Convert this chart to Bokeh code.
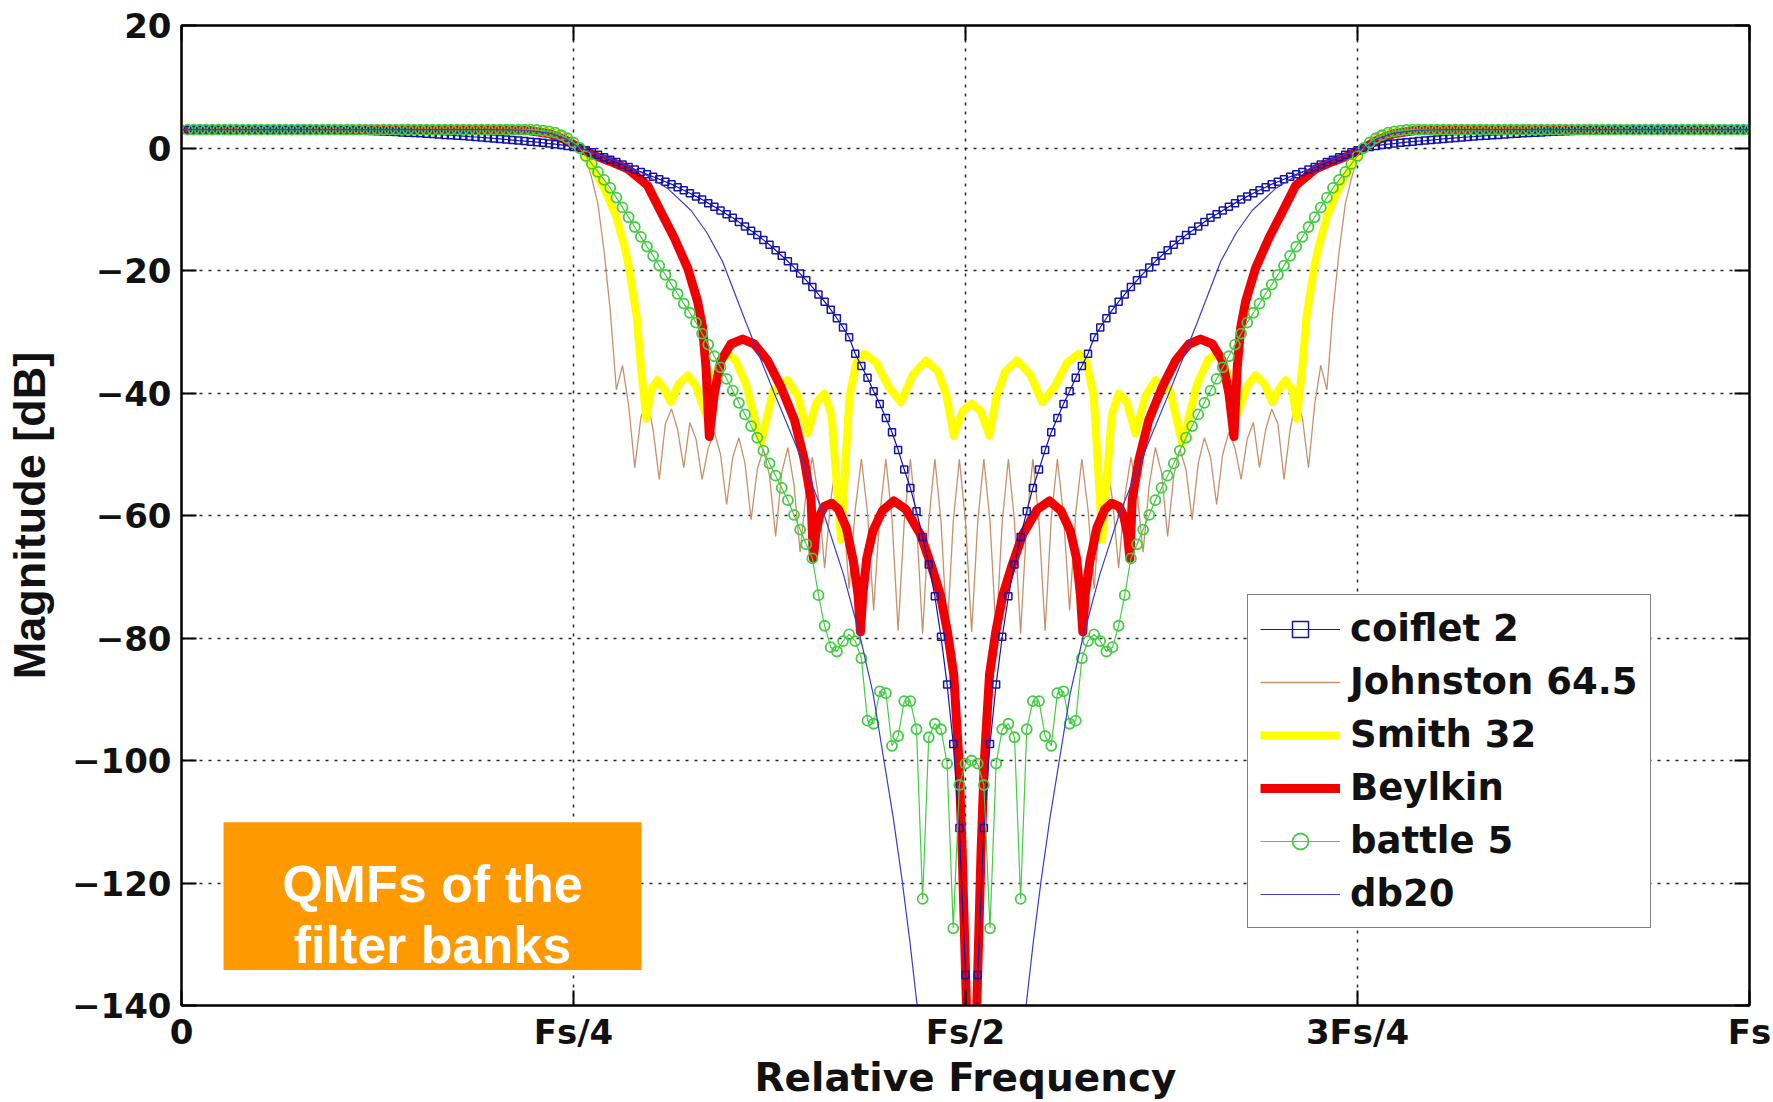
from bokeh.plotting import figure
from bokeh.models import (Range1d, FixedTicker, LinearAxis, Legend, LegendItem,
                          BoxAnnotation, Label)
from bokeh.embed import file_html
from bokeh.resources import INLINE

# ------------------------------------------------------------------ data
# Magnitude responses (dB). The responses are symmetric
# about FFT bin 129 of 256 (x = bin/256 of Fs); the lower half is listed.
N_BINS = 256
SYM_BIN = 129

freq_ticks = [0, 0.25, 0.5, 0.75, 1.0]
freq_tick_labels = ["0", "Fs/4", "Fs/2", "3Fs/4", "Fs"]
db_ticks = [-140, -120, -100, -80, -60, -40, -20, 0, 20]
db_tick_labels = ["\u2212140", "\u2212120", "\u2212100", "\u221280", "\u221260",
                  "\u221240", "\u221220", "0", "20"]

# coiflet 2 : one value per bin, bins 1..129
coiflet_db = [
    3.0, 3.0, 3.0, 3.0, 3.0, 3.0, 3.0, 3.0, 3.0, 3.0,
    3.0, 3.0, 3.0, 3.0, 3.0, 3.0, 3.0, 3.0, 3.0, 3.0,
    3.0, 2.98, 2.97, 2.95, 2.93, 2.9, 2.88, 2.85, 2.82, 2.8,
    2.76, 2.72, 2.68, 2.65, 2.6, 2.55, 2.5, 2.45, 2.39, 2.33,
    2.27, 2.2, 2.14, 2.08, 2.01, 1.95, 1.87, 1.8, 1.72, 1.65,
    1.56, 1.48, 1.39, 1.3, 1.21, 1.13, 1.04, 0.95, 0.84, 0.73,
    0.62, 0.5, 0.34, 0.17, 0.0, -0.35, -0.7, -1.1, -1.5, -1.9,
    -2.3, -2.7, -3.1, -3.5, -3.9, -4.3, -4.7, -5.1, -5.5, -5.9,
    -6.4, -6.9, -7.4, -7.9, -8.4, -9.0, -9.6, -10.2, -10.8, -11.4,
    -12.1, -12.8, -13.5, -14.2, -15.0, -15.8, -16.7, -17.6, -18.5, -19.5,
    -20.5, -21.6, -22.7, -23.9, -25.1, -26.4, -27.8, -29.3, -30.9, -33.6,
    -35.6, -37.5, -39.7, -41.8, -44.1, -46.4, -49.3, -52.5, -55.5, -59.3,
    -63.5, -68.0, -73.2, -79.8, -87.6, -97.3, -111.0, -135.0, -200.0,
]

# battle 5 : one value per bin, bins 1..129
battle_db = [
    3.0, 3.0, 3.0, 3.0, 3.0, 3.0, 3.0, 3.0, 3.0, 3.0,
    3.0, 3.0, 3.0, 3.0, 3.0, 3.0, 3.0, 3.0, 3.0, 3.0,
    3.0, 3.0, 3.0, 3.0, 3.0, 3.0, 3.0, 3.0, 3.0, 3.0,
    3.0, 3.0, 3.0, 3.0, 3.0, 3.0, 3.0, 3.0, 3.0, 3.0,
    3.0, 3.0, 3.0, 3.0, 3.0, 3.0, 3.0, 3.0, 3.0, 3.0,
    3.0, 3.0, 3.0, 3.0, 3.0, 3.0, 3.0, 2.95, 2.85, 2.7,
    2.5, 2.1, 1.6, 0.9, 0.0, -1.3, -2.6, -3.9, -5.2, -6.5,
    -8.1, -9.7, -11.3, -12.9, -14.5, -16.1, -17.6, -19.2, -20.7, -22.3,
    -23.8, -25.4, -26.9, -28.5, -30.3, -32.1, -34.0, -35.8, -37.7, -39.6,
    -41.6, -43.5, -45.4, -47.3, -49.4, -51.5, -53.5, -55.5, -57.5, -59.9,
    -62.3, -64.7, -67.0, -73.0, -78.0, -81.5, -82.2, -80.5, -79.4, -80.5,
    -83.3, -93.5, -94.0, -88.7, -89.0, -97.6, -96.0, -90.3, -90.3, -94.9,
    -122.6, -96.2, -94.0, -94.9, -100.5, -127.4, -104.0, -100.5, -100.0,
]

# Johnston 64.5 : one value per bin, bins 1..129
johnston_db = [
    3.0, 3.0, 3.0, 3.0, 3.0, 3.0, 3.0, 3.0, 3.0, 3.0,
    3.0, 3.0, 3.0, 3.0, 3.0, 3.0, 3.0, 3.0, 3.0, 3.0,
    3.0, 3.0, 3.0, 3.0, 3.0, 3.0, 3.0, 3.0, 3.0, 3.0,
    3.0, 3.0, 3.0, 3.0, 3.0, 3.0, 3.0, 3.0, 3.0, 3.0,
    3.0, 3.0, 3.0, 3.0, 3.0, 3.0, 3.0, 3.0, 3.0, 3.0,
    3.0, 3.0, 3.0, 3.0, 3.0, 3.0, 3.0, 3.0, 3.0, 3.0,
    2.95, 2.8, 2.3, 1.4, 0.0, -1.5, -5.0, -9.2, -16.9, -26.5,
    -39.5, -35.5, -42.0, -52.2, -44.0, -41.0, -46.0, -54.1, -45.0, -42.6,
    -46.0, -52.2, -44.8, -47.5, -54.1, -49.0, -46.4, -50.0, -58.2, -50.5,
    -47.3, -51.5, -60.7, -52.5, -49.2, -53.5, -63.4, -53.0, -48.9, -55.0,
    -66.0, -56.0, -50.5, -57.0, -68.6, -57.5, -50.5, -58.5, -72.0, -59.0,
    -50.8, -59.5, -75.5, -60.0, -50.8, -60.5, -78.8, -61.0, -50.8, -61.0,
    -79.3, -61.0, -50.8, -61.0, -79.3, -61.0, -50.8, -61.0, -79.0,
]

# Smith 32 : (frequency / Fs, dB) points of the lower half
smith_f = [0.0, 0.22, 0.235, 0.245, 0.2539, 0.262, 0.27, 0.277, 0.2825, 0.2855,
           0.2904, 0.293, 0.2965, 0.2995, 0.3036, 0.3075, 0.3121, 0.317, 0.3228, 0.328,
           0.3355, 0.341, 0.347, 0.353, 0.36, 0.3696, 0.3775, 0.3866, 0.393, 0.3994,
           0.405, 0.41, 0.4145, 0.4206, 0.426, 0.4305, 0.4355, 0.443, 0.451, 0.4589,
           0.4665, 0.4749, 0.4825, 0.488, 0.4925, 0.498, 0.5039]
smith_db = [3.0, 3.0, 2.6, 1.6, 0.0, -3.0, -6.8, -11.0, -16.0, -19.6,
            -27.7, -35.8, -44.2, -39.5, -37.9, -39.2, -41.5, -38.6, -37.1, -38.8,
            -44.2, -36.5, -33.5, -34.5, -38.5, -48.2, -39.5, -37.9, -40.5, -46.6,
            -41.5, -40.1, -43.5, -63.9, -40.5, -35.0, -33.6, -35.0, -39.0, -41.5,
            -37.0, -34.7, -36.5, -40.5, -47.0, -43.0, -41.7]

# Beylkin : (frequency / Fs, dB) points of the lower half
beylkin_f = [0.0, 0.2, 0.22, 0.235, 0.245, 0.2539, 0.2632, 0.2735, 0.2845, 0.2972,
             0.3057, 0.3143, 0.3228, 0.3291, 0.3323, 0.3345, 0.3355, 0.3366, 0.3398, 0.344,
             0.3504, 0.3579, 0.3653, 0.3738, 0.3823, 0.3909, 0.3972, 0.4015, 0.403, 0.4045,
             0.407, 0.41, 0.4147, 0.419, 0.424, 0.4285, 0.4315, 0.433, 0.4345, 0.437,
             0.441, 0.447, 0.4543, 0.462, 0.4713, 0.4786, 0.484, 0.4885, 0.4925, 0.4958,
             0.4979, 0.5005, 0.5039]
beylkin_db = [3.0, 3.0, 2.9, 2.3, 1.3, 0.0, -1.2, -2.2, -3.4, -6.1,
              -10.4, -14.7, -19.6, -25.0, -29.3, -35.8, -41.2, -47.1, -40.1, -34.7,
              -32.0, -31.2, -32.0, -34.7, -39.0, -44.4, -50.9, -57.4, -67.0, -63.0,
              -60.0, -58.5, -58.0, -59.0, -62.0, -67.5, -73.0, -79.0, -73.0, -67.0,
              -62.5, -59.2, -57.6, -59.0, -63.1, -68.5, -73.0, -79.0, -86.0, -100.0,
              -115.0, -139.0, -200.0]

# db20 : (frequency / Fs, dB) points of the lower half
db20_f = [0.0, 0.2, 0.22, 0.235, 0.245, 0.2539, 0.265, 0.28, 0.295, 0.31,
          0.325, 0.335, 0.345, 0.36, 0.378, 0.395, 0.41, 0.422, 0.433, 0.441,
          0.448, 0.454, 0.4596, 0.4645, 0.4688, 0.475, 0.49, 0.5039]
db20_db = [3.0, 3.0, 2.9, 2.4, 1.5, 0.0, -1.0, -2.4, -4.2, -6.6,
           -10.2, -13.8, -18.5, -28.5, -40.0, -50.5, -60.0, -69.5, -80.0, -89.0,
           -100.0, -109.5, -119.6, -129.5, -139.2, -152.0, -185.0, -230.0]

# ------------------------------------------------------------------ build full curves
freq_bins = [b / N_BINS for b in range(1, N_BINS + 1)]


def full_bins(vals):
    # bins 130..256 mirror bins 128..2
    return vals + vals[-2:0:-1]


def full_curve(f, v):
    c2 = 2 * SYM_BIN / N_BINS
    return f + [c2 - x for x in f[-2::-1]], v + v[-2::-1]


coif_full = full_bins(coiflet_db)
battle_full = full_bins(battle_db)
john_full = full_bins(johnston_db)
smith_x, smith_y = full_curve(smith_f, smith_db)
bey_x, bey_y = full_curve(beylkin_f, beylkin_db)
db20_x, db20_y = full_curve(db20_f, db20_db)

# ------------------------------------------------------------------ figure
p = figure(width=1773, height=1102,
           x_range=Range1d(0, 1), y_range=Range1d(-140, 20),
           output_backend="svg", toolbar_location=None,
           min_border_left=181, min_border_right=24, min_border_top=25,
           min_border_bottom=0,
           x_axis_label="Relative Frequency", y_axis_label="Magnitude [dB]")
p.background_fill_color = "white"
p.border_fill_color = "white"
p.outline_line_color = "black"
p.outline_line_width = 2

# grid
p.xgrid[0].ticker = FixedTicker(ticks=freq_ticks)
p.ygrid[0].ticker = FixedTicker(ticks=db_ticks)
for g in (p.xgrid[0], p.ygrid[0]):
    g.grid_line_color = "black"
    g.grid_line_dash = "3 6"
    g.grid_line_width = 1.5
    g.grid_line_alpha = 0.85

TICK_FONT = "DejaVu Sans"

xa = p.xaxis[0]
xa.ticker = FixedTicker(ticks=freq_ticks)
xa.major_label_overrides = dict(zip(freq_ticks, freq_tick_labels))
xa.axis_label_text_font = "DejaVu Sans"
xa.axis_label_text_font_size = "39px"
xa.axis_label_standoff = 0
xa.major_label_standoff = 6

ya = p.yaxis[0]
ya.ticker = FixedTicker(ticks=db_ticks)
ya.major_label_overrides = dict(zip(db_ticks, db_tick_labels))
ya.axis_label_text_font = "Liberation Sans"
ya.axis_label_text_font_size = "45px"
ya.axis_label_standoff = 14
ya.major_label_standoff = 10

for ax in (xa, ya):
    ax.major_label_text_font = TICK_FONT
    ax.major_label_text_font_style = "bold"
    ax.major_label_text_font_size = "34px"
    ax.major_label_text_color = "#111111"
    ax.axis_label_text_font_style = "bold"
    ax.axis_label_text_color = "#111111"
    ax.major_tick_in = 15
    ax.major_tick_out = 0
    ax.major_tick_line_width = 2
    ax.minor_tick_line_color = None
    ax.axis_line_width = 2

# tick marks on the right and top edges (no labels)
for place, ticks in (("right", db_ticks), ("above", freq_ticks)):
    extra = LinearAxis(ticker=FixedTicker(ticks=ticks),
                       major_label_text_font_size="1px",
                       major_label_text_color=None, major_label_standoff=0,
                       major_tick_in=15, major_tick_out=0, major_tick_line_width=2,
                       minor_tick_line_color=None, axis_line_width=2)
    p.add_layout(extra, place)

# colours
C_COIF = "#1414aa"
C_JOHN = "#c8916a"
C_SMITH = "#ffff00"
C_BEY = "#f00000"
C_BATTLE = "#44cc44"
C_DB20 = "#3c3cc8"

r_john = p.line(freq_bins, john_full, line_color=C_JOHN, line_width=1.3)
r_smith = p.line(smith_x, smith_y, line_color=C_SMITH, line_width=8, line_join="round")
r_bey = p.line(bey_x, bey_y, line_color=C_BEY, line_width=9, line_join="round")
r_coif_l = p.line(freq_bins, coif_full, line_color=C_COIF, line_width=1.2)
r_coif_m = p.scatter(freq_bins, coif_full, marker="square", size=7,
                     fill_color=None, line_color=C_COIF, line_width=1.5)
r_bat_l = p.line(freq_bins, battle_full, line_color=C_BATTLE, line_width=1.2)
r_bat_m = p.scatter(freq_bins, battle_full, marker="circle", size=10,
                    fill_color=None, line_color=C_BATTLE, line_width=1.8)
r_db20 = p.line(db20_x, db20_y, line_color=C_DB20, line_width=1.2)

legend = Legend(items=[
    LegendItem(label="coiflet 2", renderers=[r_coif_l, r_coif_m]),
    LegendItem(label="Johnston 64.5", renderers=[r_john]),
    LegendItem(label="Smith 32", renderers=[r_smith]),
    LegendItem(label="Beylkin", renderers=[r_bey]),
    LegendItem(label="battle 5", renderers=[r_bat_l, r_bat_m]),
    LegendItem(label="db20", renderers=[r_db20]),
], location=(1066, 77))
legend.label_text_font = "DejaVu Sans"
legend.label_text_font_style = "bold"
legend.label_text_font_size = "37px"
legend.label_text_color = "#111111"
legend.label_height = 40
legend.glyph_height = 40
legend.glyph_width = 80
legend.label_standoff = 10
legend.spacing = 10
legend.padding = 12
legend.margin = 0
legend.border_line_color = "black"
legend.border_line_width = 1.5
legend.background_fill_color = "white"
legend.background_fill_alpha = 1.0
p.add_layout(legend, "center")

# orange caption box
box = BoxAnnotation(left=0.0268, right=0.2934, top=-110.1, bottom=-134.2,
                    fill_color="#ff9900", fill_alpha=1.0, line_color=None)
p.add_layout(box)
for txt, yv in (("QMFs of the", -120.2), ("filter banks", -130.2)):
    p.add_layout(Label(x=0.16, y=yv, text=txt, text_align="center",
                       text_baseline="alphabetic", text_color="white",
                       text_font="Liberation Sans", text_font_style="bold",
                       text_font_size="52px"))

open("out.html", "w").write(file_html(p, INLINE))
